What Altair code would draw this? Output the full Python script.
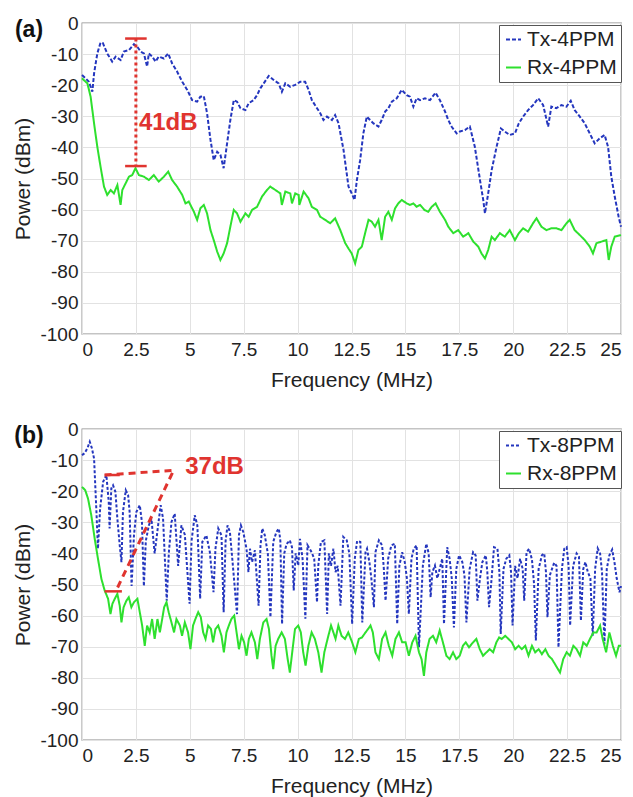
import altair as alt
import pandas as pd

FONT = "Liberation Sans"
BLUE = "#2436BE"
GREEN = "#2EE02E"
RED = "#E0342F"

X_TICKS = [0, 2.5, 5, 7.5, 10, 12.5, 15, 17.5, 20, 22.5, 25]
Y_TICKS = [-100, -90, -80, -70, -60, -50, -40, -30, -20, -10, 0]

SERIES_A = ["Tx-4PPM", "Rx-4PPM"]
SERIES_B = ["Tx-8PPM", "Rx-8PPM"]

# (frequency MHz, power dBm)
TX_A = [(0.00,-16.7),(0.17,-17.8),(0.32,-18.9),(0.48,-22.1),(0.56,-16.2),(0.71,-9.8),(0.86,-6.3),(0.97,-6.5),(1.17,-9.8),(1.40,-12.4),
        (1.56,-10.8),(1.79,-11.9),(1.94,-9.2),(2.18,-8.7),(2.41,-6.8),(2.56,-7.6),(2.72,-9.2),(2.87,-9.8),(3.02,-14.0),(3.10,-9.8),
        (3.26,-10.8),(3.41,-12.4),(3.56,-10.8),(3.80,-11.4),(4.00,-9.8),(4.18,-13.0),(4.41,-15.6),(4.65,-18.9),(4.88,-21.5),(5.11,-24.8),
        (5.34,-25.3),(5.49,-23.7),(5.65,-23.5),(5.80,-29.0),(5.96,-37.6),(6.11,-44.1),(6.27,-41.4),(6.42,-42.4),(6.57,-46.7),(6.73,-38.7),
        (6.88,-31.2),(7.04,-24.8),(7.19,-25.3),(7.35,-27.4),(7.58,-28.0),(7.73,-25.8),(7.96,-24.8),(8.12,-23.2),(8.27,-21.0),(8.43,-19.4),
        (8.66,-17.0),(8.89,-18.3),(9.12,-19.4),(9.27,-22.1),(9.43,-19.4),(9.66,-20.5),(9.89,-19.9),(10.12,-18.9),(10.35,-18.9),(10.51,-21.5),
        (10.66,-24.8),(10.90,-27.4),(11.05,-29.0),(11.20,-31.2),(11.36,-30.1),(11.59,-31.2),(11.74,-29.6),(11.90,-32.3),(12.13,-40.8),(12.36,-52.6),
        (12.51,-54.8),(12.64,-56.9),(12.75,-50.5),(12.90,-44.1),(13.05,-35.5),(13.21,-30.1),(13.36,-31.2),(13.52,-32.3),(13.75,-33.3),(13.90,-31.2),
        (14.06,-28.5),(14.21,-27.4),(14.37,-25.3),(14.60,-24.2),(14.83,-21.5),(15.06,-23.2),(15.21,-23.7),(15.37,-26.9),(15.52,-24.2),(15.68,-24.8),
        (15.91,-24.2),(16.14,-24.8),(16.40,-22.4),(16.60,-24.8),(16.84,-28.5),(16.99,-31.2),(17.14,-33.3),(17.38,-35.5),(17.53,-34.9),(17.76,-34.4),
        (17.99,-33.3),(18.22,-39.8),(18.46,-50.5),(18.61,-56.9),(18.69,-61.2),(18.84,-54.8),(19.00,-47.3),(19.23,-39.8),(19.43,-33.9),(19.61,-34.9),
        (19.84,-36.0),(20.08,-35.5),(20.26,-32.3),(20.46,-30.1),(20.69,-28.0),(20.92,-26.4),(21.16,-24.2),(21.39,-26.4),(21.62,-33.3),(21.77,-26.9),
        (22.00,-27.4),(22.24,-26.4),(22.47,-26.9),(22.67,-25.0),(22.85,-28.0),(23.09,-30.1),(23.32,-32.3),(23.55,-35.5),(23.78,-38.7),(24.01,-37.1),
        (24.24,-36.0),(24.40,-39.8),(24.55,-49.4),(24.71,-55.8),(24.89,-62.3),(25.00,-65.5)]

RX_A = [(0.00,-17.8),(0.25,-19.4),(0.40,-23.7),(0.56,-32.3),(0.71,-39.8),(0.86,-46.2),(1.02,-52.6),(1.17,-55.3),(1.33,-53.7),(1.48,-54.8),
        (1.64,-52.1),(1.79,-58.5),(1.87,-53.7),(2.02,-51.6),(2.18,-49.4),(2.33,-48.9),(2.48,-46.7),(2.64,-48.9),(2.87,-49.4),(3.10,-50.5),
        (3.33,-48.9),(3.56,-51.0),(3.80,-49.4),(4.00,-47.8),(4.18,-50.5),(4.41,-52.6),(4.65,-55.3),(4.80,-58.0),(4.95,-57.4),(5.19,-60.7),
        (5.34,-63.3),(5.49,-59.6),(5.65,-58.5),(5.80,-61.2),(5.96,-66.6),(6.11,-69.8),(6.27,-73.5),(6.42,-76.2),(6.57,-74.1),(6.73,-70.8),
        (6.88,-65.5),(7.04,-60.1),(7.19,-61.2),(7.35,-63.9),(7.58,-61.2),(7.73,-62.3),(7.89,-60.1),(8.12,-59.1),(8.35,-55.8),(8.58,-53.7),
        (8.73,-52.6),(8.97,-53.7),(9.20,-54.8),(9.27,-58.5),(9.43,-54.2),(9.66,-54.8),(9.74,-58.0),(9.89,-54.8),(10.05,-55.3),(10.08,-58.5),
        (10.28,-54.2),(10.51,-56.4),(10.66,-59.1),(10.90,-60.1),(11.05,-62.3),(11.28,-63.3),(11.51,-64.4),(11.74,-62.8),(11.98,-66.6),(12.21,-70.8),
        (12.36,-72.5),(12.51,-74.1),(12.67,-77.3),(12.82,-73.0),(12.98,-71.9),(13.13,-67.6),(13.29,-63.3),(13.44,-63.9),(13.59,-65.5),(13.75,-63.3),
        (13.90,-69.8),(14.06,-62.3),(14.21,-60.7),(14.37,-63.3),(14.52,-59.6),(14.67,-58.0),(14.83,-56.9),(15.06,-58.0),(15.21,-58.5),(15.37,-58.0),
        (15.52,-59.1),(15.68,-58.5),(15.88,-60.1),(16.06,-60.7),(16.22,-59.1),(16.40,-58.0),(16.60,-60.7),(16.84,-63.3),(16.99,-65.5),(17.22,-67.6),
        (17.45,-66.6),(17.68,-68.7),(17.92,-67.6),(18.15,-70.3),(18.38,-71.9),(18.53,-74.1),(18.69,-75.7),(18.84,-73.0),(19.00,-68.7),(19.15,-69.8),
        (19.38,-67.6),(19.61,-68.7),(19.84,-66.6),(20.08,-69.8),(20.26,-67.6),(20.46,-66.0),(20.69,-67.1),(20.92,-64.4),(21.08,-62.8),(21.31,-65.5),
        (21.54,-66.6),(21.77,-66.0),(22.00,-66.0),(22.24,-66.6),(22.47,-64.4),(22.62,-63.3),(22.85,-66.6),(23.09,-68.2),(23.32,-69.8),(23.55,-71.9),
        (23.70,-74.1),(23.86,-70.8),(24.09,-70.3),(24.32,-69.8),(24.43,-76.2),(24.55,-71.9),(24.71,-68.7),(25.00,-68.2)]

TX_B = [(0.00,-8.4),(0.12,-7.8),(0.25,-6.2),(0.36,-4.1),(0.46,-6.2),(0.56,-9.5),(0.67,-26.7),(0.74,-38.5),(0.84,-25.6),(0.98,-17.0),
        (1.13,-14.8),(1.24,-23.4),(1.28,-32.0),(1.36,-19.1),(1.44,-18.1),(1.55,-20.2),(1.64,-28.8),(1.75,-37.4),(1.83,-42.8),(1.90,-26.7),
        (2.03,-19.7),(2.14,-21.3),(2.21,-26.7),(2.30,-50.5),(2.41,-34.2),(2.52,-26.7),(2.68,-24.5),(2.78,-29.9),(2.87,-50.5),(2.96,-36.0),
        (3.10,-31.0),(3.22,-28.8),(3.37,-40.0),(3.53,-31.0),(3.65,-24.5),(3.76,-28.8),(3.93,-55.2),(4.03,-39.6),(4.15,-29.9),(4.30,-27.2),
        (4.46,-44.0),(4.61,-31.0),(4.77,-34.0),(4.99,-56.2),(5.08,-36.0),(5.23,-27.7),(5.35,-31.0),(5.48,-54.6),(5.58,-36.3),(5.77,-34.2),
        (5.93,-39.6),(6.10,-52.5),(6.19,-38.5),(6.32,-32.0),(6.47,-34.2),(6.57,-58.9),(6.66,-36.0),(6.75,-31.0),(6.86,-33.1),(6.97,-41.7),
        (7.19,-59.5),(7.28,-34.0),(7.37,-31.0),(7.48,-33.1),(7.63,-38.5),(7.72,-46.0),(7.79,-38.5),(7.89,-42.8),(8.02,-39.0),(8.19,-56.8),
        (8.28,-37.4),(8.36,-32.0),(8.48,-34.2),(8.62,-40.1),(8.74,-60.5),(8.87,-36.3),(9.02,-33.1),(9.13,-32.0),(9.20,-36.0),(9.28,-62.7),
        (9.38,-40.0),(9.49,-37.0),(9.64,-35.8),(9.74,-38.0),(9.82,-51.9),(9.91,-40.0),(10.03,-43.9),(10.11,-35.3),(10.23,-41.7),(10.36,-61.0),
        (10.46,-37.4),(10.65,-39.6),(10.77,-41.7),(10.90,-55.7),(10.96,-43.9),(11.08,-36.3),(11.24,-35.8),(11.37,-59.5),(11.45,-40.0),(11.55,-44.0),
        (11.66,-38.5),(11.76,-46.0),(11.86,-44.0),(11.99,-56.8),(12.12,-34.7),(12.28,-35.8),(12.40,-40.0),(12.53,-62.7),(12.65,-41.8),(12.76,-36.0),
        (12.91,-36.3),(13.00,-62.2),(13.15,-39.6),(13.22,-38.5),(13.33,-42.8),(13.42,-48.0),(13.54,-57.3),(13.61,-39.6),(13.77,-35.8),(13.92,-37.4),
        (14.00,-45.0),(14.08,-55.2),(14.20,-41.7),(14.35,-37.4),(14.51,-36.9),(14.62,-62.7),(14.72,-44.0),(14.85,-39.6),(14.97,-42.8),(15.07,-48.0),
        (15.16,-59.5),(15.28,-41.7),(15.39,-38.5),(15.52,-37.4),(15.63,-70.2),(15.81,-43.9),(15.97,-36.9),(16.08,-40.0),(16.17,-54.1),(16.25,-46.0),
        (16.37,-43.9),(16.48,-48.0),(16.59,-45.0),(16.71,-41.7),(16.79,-62.7),(16.94,-38.0),(17.05,-41.7),(17.15,-48.0),(17.25,-63.8),(17.36,-45.0),
        (17.49,-40.6),(17.64,-42.8),(17.74,-47.0),(17.83,-62.2),(17.98,-45.0),(18.14,-39.6),(18.26,-40.6),(18.34,-55.2),(18.46,-48.0),(18.57,-42.8),
        (18.73,-40.6),(18.80,-46.0),(18.88,-57.3),(19.00,-48.0),(19.11,-38.0),(19.27,-38.5),(19.36,-46.0),(19.42,-65.9),(19.55,-45.0),(19.68,-41.7),
        (19.82,-40.6),(19.90,-46.0),(19.97,-63.2),(20.09,-44.0),(20.20,-48.0),(20.32,-41.7),(20.44,-45.0),(20.51,-55.2),(20.62,-39.6),(20.74,-38.5),
        (20.87,-42.0),(20.97,-50.0),(21.05,-68.0),(21.18,-45.0),(21.33,-40.6),(21.44,-40.0),(21.52,-46.0),(21.59,-60.5),(21.70,-47.0),(21.80,-45.0),
        (21.90,-43.0),(22.01,-44.0),(22.10,-70.2),(22.26,-45.0),(22.37,-38.5),(22.48,-38.0),(22.57,-44.0),(22.64,-63.2),(22.78,-44.0),(22.94,-40.0),
        (23.05,-41.0),(23.14,-61.6),(23.25,-45.0),(23.35,-42.8),(23.46,-46.0),(23.58,-48.0),(23.69,-66.5),(23.80,-45.0),(23.92,-38.4),(24.03,-40.0),
        (24.12,-46.0),(24.23,-69.2),(24.34,-45.0),(24.46,-40.6),(24.59,-38.8),(24.70,-43.0),(24.80,-48.0),(24.93,-52.5),(25.00,-50.5)]

RX_B = [(0.00,-18.6),(0.15,-19.7),(0.28,-22.4),(0.43,-27.7),(0.59,-35.3),(0.74,-41.7),(0.90,-48.2),(1.05,-51.9),(1.21,-54.6),(1.32,-59.5),
        (1.41,-56.2),(1.52,-54.6),(1.64,-53.0),(1.75,-56.8),(1.83,-62.2),(1.93,-57.3),(2.06,-55.2),(2.17,-54.1),(2.29,-57.3),(2.41,-55.7),
        (2.57,-54.6),(2.68,-58.9),(2.79,-63.2),(2.91,-69.7),(3.02,-63.2),(3.14,-65.4),(3.25,-61.1),(3.37,-67.5),(3.50,-61.1),(3.61,-65.4),
        (3.72,-61.1),(3.81,-57.3),(3.92,-55.7),(4.02,-58.9),(4.15,-62.2),(4.27,-65.4),(4.38,-61.1),(4.54,-63.2),(4.64,-66.5),(4.77,-62.2),
        (4.92,-65.4),(5.03,-70.8),(5.15,-63.2),(5.26,-61.1),(5.39,-58.9),(5.51,-60.5),(5.62,-65.4),(5.73,-67.5),(5.85,-63.2),(5.98,-64.3),
        (6.08,-68.6),(6.19,-64.3),(6.32,-63.2),(6.47,-66.5),(6.58,-71.8),(6.70,-65.4),(6.81,-63.2),(6.93,-61.1),(7.06,-60.0),(7.17,-65.4),
        (7.28,-70.8),(7.40,-66.5),(7.52,-68.6),(7.63,-72.9),(7.74,-67.5),(7.86,-65.4),(8.02,-68.6),(8.13,-74.0),(8.25,-67.5),(8.41,-62.2),
        (8.56,-61.1),(8.67,-64.3),(8.79,-72.9),(8.87,-77.2),(8.98,-69.7),(9.10,-67.5),(9.26,-65.4),(9.41,-67.5),(9.54,-74.0),(9.64,-78.3),
        (9.75,-71.8),(9.88,-64.3),(10.03,-63.2),(10.15,-65.4),(10.26,-71.8),(10.37,-76.1),(10.50,-69.7),(10.65,-65.4),(10.80,-67.5),(10.96,-71.8),
        (11.11,-78.3),(11.24,-71.8),(11.39,-67.5),(11.55,-63.2),(11.66,-65.4),(11.76,-67.5),(11.89,-63.2),(12.04,-66.5),(12.20,-67.5),(12.35,-65.4),
        (12.53,-68.6),(12.68,-71.8),(12.84,-67.5),(12.99,-67.0),(13.15,-65.4),(13.27,-64.3),(13.38,-63.2),(13.49,-65.4),(13.61,-71.8),(13.77,-74.0),
        (13.92,-67.5),(14.08,-65.4),(14.23,-69.7),(14.39,-72.9),(14.54,-67.5),(14.70,-65.4),(14.85,-68.6),(15.01,-68.6),(15.16,-72.9),(15.32,-68.6),
        (15.47,-66.5),(15.63,-71.8),(15.75,-74.0),(15.86,-79.4),(15.97,-71.8),(16.12,-67.5),(16.28,-66.5),(16.43,-68.6),(16.59,-64.8),(16.74,-68.6),
        (16.90,-72.9),(17.05,-74.0),(17.21,-71.8),(17.36,-74.0),(17.52,-72.9),(17.67,-69.7),(17.80,-68.6),(17.95,-70.2),(18.14,-68.6),(18.29,-67.5),
        (18.45,-70.8),(18.60,-72.9),(18.76,-71.8),(18.91,-70.8),(19.07,-71.8),(19.22,-68.6),(19.35,-67.0),(19.47,-67.5),(19.63,-66.5),(19.78,-67.5),
        (19.94,-68.6),(20.09,-70.8),(20.25,-69.7),(20.40,-70.8),(20.56,-69.7),(20.71,-72.9),(20.87,-69.7),(21.02,-71.8),(21.18,-70.8),(21.33,-72.4),
        (21.49,-70.8),(21.64,-72.9),(21.80,-74.0),(21.98,-76.1),(22.17,-78.3),(22.32,-74.0),(22.48,-71.8),(22.63,-72.9),(22.79,-69.7),(22.94,-70.8),
        (23.10,-72.9),(23.25,-68.6),(23.41,-69.7),(23.56,-67.5),(23.72,-65.4),(23.87,-65.4),(24.03,-63.2),(24.15,-67.5),(24.31,-71.8),(24.46,-65.4),
        (24.62,-69.7),(24.77,-72.9),(24.90,-69.7),(25.00,-69.7)]

# annotations (data coordinates)
A_SPAN = [(2.5, -5.0), (2.5, -46.0)]
A_CAPS = [(2.0, 3.0, -5.0), (2.0, 3.0, -46.0)]
A_TEXT = [(4.0, -32.0, "41dB")]
B_SPAN = [(1.05, -14.8), (4.25, -13.3), (1.65, -51.0)]
B_CAPS = [(1.05, 1.75, -14.8), (1.05, 1.85, -52.2)]
B_TEXT = [(6.15, -12.3, "37dB")]

W, H = 539, 311


def build_panel(tx, rx, names, span, span_dash, caps, texts, tag, tx_dash):
    df = pd.concat([
        pd.DataFrame(tx, columns=["f", "p"]).assign(s=names[0]),
        pd.DataFrame(rx, columns=["f", "p"]).assign(s=names[1]),
    ])
    xs = alt.Scale(domain=[0, 25], nice=False)
    ys = alt.Scale(domain=[-100, 0], nice=False)
    leg = alt.Legend(title=None, orient="none", legendX=417, legendY=2,
                     symbolType="stroke", symbolSize=225, symbolStrokeWidth=2,
                     labelFontSize=21, labelFont=FONT, labelColor="#222",
                     strokeColor="#555", fillColor="white", padding=4,
                     rowPadding=6, labelOffset=3, labelLimit=200)
    x_axis = alt.Axis(values=X_TICKS, title="Frequency (MHz)", labelExpr="'' + datum.value",
                      labelPadding=6, labelOverlap=False, titlePadding=10, tickCount=11)
    y_axis = alt.Axis(values=Y_TICKS, title="Power (dBm)", labelExpr="'' + datum.value",
                      labelPadding=4, labelOverlap=False, labelSeparation=0,
                      titlePadding=6, tickCount=11)

    def X(field):
        return alt.X(field, scale=xs, axis=x_axis)

    def Y(field):
        return alt.Y(field, scale=ys, axis=y_axis)

    lines = alt.Chart(df).mark_line(strokeWidth=2).encode(
        x=X("f:Q"), y=Y("p:Q"),
        color=alt.Color("s:N", scale=alt.Scale(domain=names, range=[BLUE, GREEN]), legend=leg),
        strokeDash=alt.StrokeDash("s:N", scale=alt.Scale(domain=names, range=[tx_dash, [1, 0]]), legend=leg),
    )
    sdf = pd.DataFrame(span, columns=["f", "p"]).reset_index()
    span_l = alt.Chart(sdf).mark_line(color=RED, strokeWidth=3, strokeDash=span_dash).encode(
        x=X("f:Q"), y=Y("p:Q"), order="index:Q")
    cdf = pd.DataFrame(caps, columns=["f", "f2", "p"])
    caps_l = alt.Chart(cdf).mark_rule(color=RED, strokeWidth=2.5).encode(
        x=X("f:Q"), x2="f2:Q", y=Y("p:Q"))
    tdf = pd.DataFrame(texts, columns=["f", "p", "t"])
    text_l = alt.Chart(tdf).mark_text(color=RED, font=FONT, fontSize=24, fontWeight="bold",
                                      align="center", baseline="middle").encode(
        x=X("f:Q"), y=Y("p:Q"), text="t:N")
    tag_l = alt.Chart(pd.DataFrame({"t": [tag]})).mark_text(
        font=FONT, fontSize=23, fontWeight="bold", color="#111", align="center",
        baseline="middle").encode(x=alt.value(-53), y=alt.value(7), text="t:N")
    return alt.layer(lines, span_l, caps_l, text_l, tag_l).properties(width=W, height=H)


pa = build_panel(TX_A, RX_A, SERIES_A, A_SPAN, [3, 3], A_CAPS, A_TEXT, "(a)", [4, 2])
pb = build_panel(TX_B, RX_B, SERIES_B, B_SPAN, [7, 5], B_CAPS, B_TEXT, "(b)", [3, 2])

chart = alt.vconcat(pa, pb, spacing=28).resolve_scale(
    color="independent", strokeDash="independent"
).properties(
    padding={"left": 12, "top": 13, "right": 3, "bottom": 2}, background="white"
).configure_axis(
    labelFont=FONT, titleFont=FONT, labelFontSize=19, titleFontSize=21,
    titleFontWeight="normal", labelColor="#222", titleColor="#222",
    gridColor="#e2e2e2", gridWidth=1, domain=False, ticks=False,
    labelOverlap=False,
).configure_view(stroke="#8a8a8a", strokeWidth=1.3)

chart.save("out.html", embed_options={"renderer": "svg", "actions": False})
